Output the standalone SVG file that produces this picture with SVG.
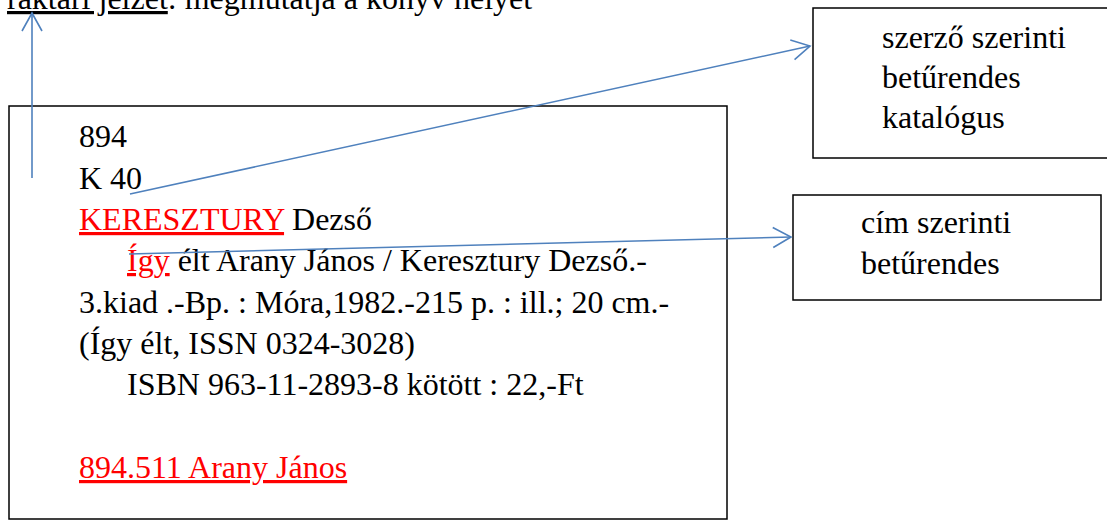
<svg xmlns="http://www.w3.org/2000/svg" width="1107" height="520" viewBox="0 0 1107 520">
<style>
text{font-family:'Liberation Serif','Times New Roman',Times,serif;font-size:32px;fill:#000}
.red{fill:#ff0000}
.u{text-decoration:underline}
.box{fill:#fff;stroke:#000;stroke-width:1.5}
.conn{stroke:#4f81bd;stroke-width:1.6;fill:none}
</style>
<defs>
<marker id="arr" markerWidth="24" markerHeight="24" refX="20" refY="10" orient="auto" markerUnits="userSpaceOnUse" viewBox="0 0 24 20">
<path d="M2,0 L20,10 L2,20" fill="none" stroke="#4f81bd" stroke-width="1.6"/>
</marker>
</defs>
<g id="top-label">
<text x="7" y="9"><tspan class="u">raktári jelzet</tspan>: megmutatja a könyv helyét</text>
</g>
<g id="card">
<rect class="box" x="9" y="106" width="718" height="413"/>
<text x="79" y="147">894</text>
<text x="79" y="189">K 40</text>
<text x="79" y="230"><tspan class="red u">KERESZTURY</tspan> Dezső</text>
<text x="127" y="271"><tspan class="red u">Így</tspan> élt Arany János / Keresztury Dezső.-</text>
<text x="79" y="313">3.kiad .-Bp. : Móra,1982.-215 p. : ill.; 20 cm.-</text>
<text x="79" y="354">(Így élt, ISSN 0324-3028)</text>
<text x="127" y="395">ISBN 963-11-2893-8 kötött : 22,-Ft</text>
<text x="79" y="478" class="red u">894.511 Arany János</text>
</g>
<g id="author-catalog">
<rect class="box" x="813" y="8" width="296" height="150"/>
<text x="882" y="48">szerző szerinti</text>
<text x="882" y="88">betűrendes</text>
<text x="882" y="128">katalógus</text>
</g>
<g id="title-catalog">
<rect class="box" x="793" y="195" width="308" height="105"/>
<text x="861" y="233">cím szerinti</text>
<text x="861" y="274">betűrendes</text>
</g>
<g id="connectors">
<line class="conn" x1="32" y1="178" x2="32" y2="13" marker-end="url(#arr)"/>
<line class="conn" x1="130" y1="194" x2="810" y2="46" marker-end="url(#arr)"/>
<line class="conn" x1="129" y1="254" x2="791" y2="237" marker-end="url(#arr)"/>
</g>
</svg>
